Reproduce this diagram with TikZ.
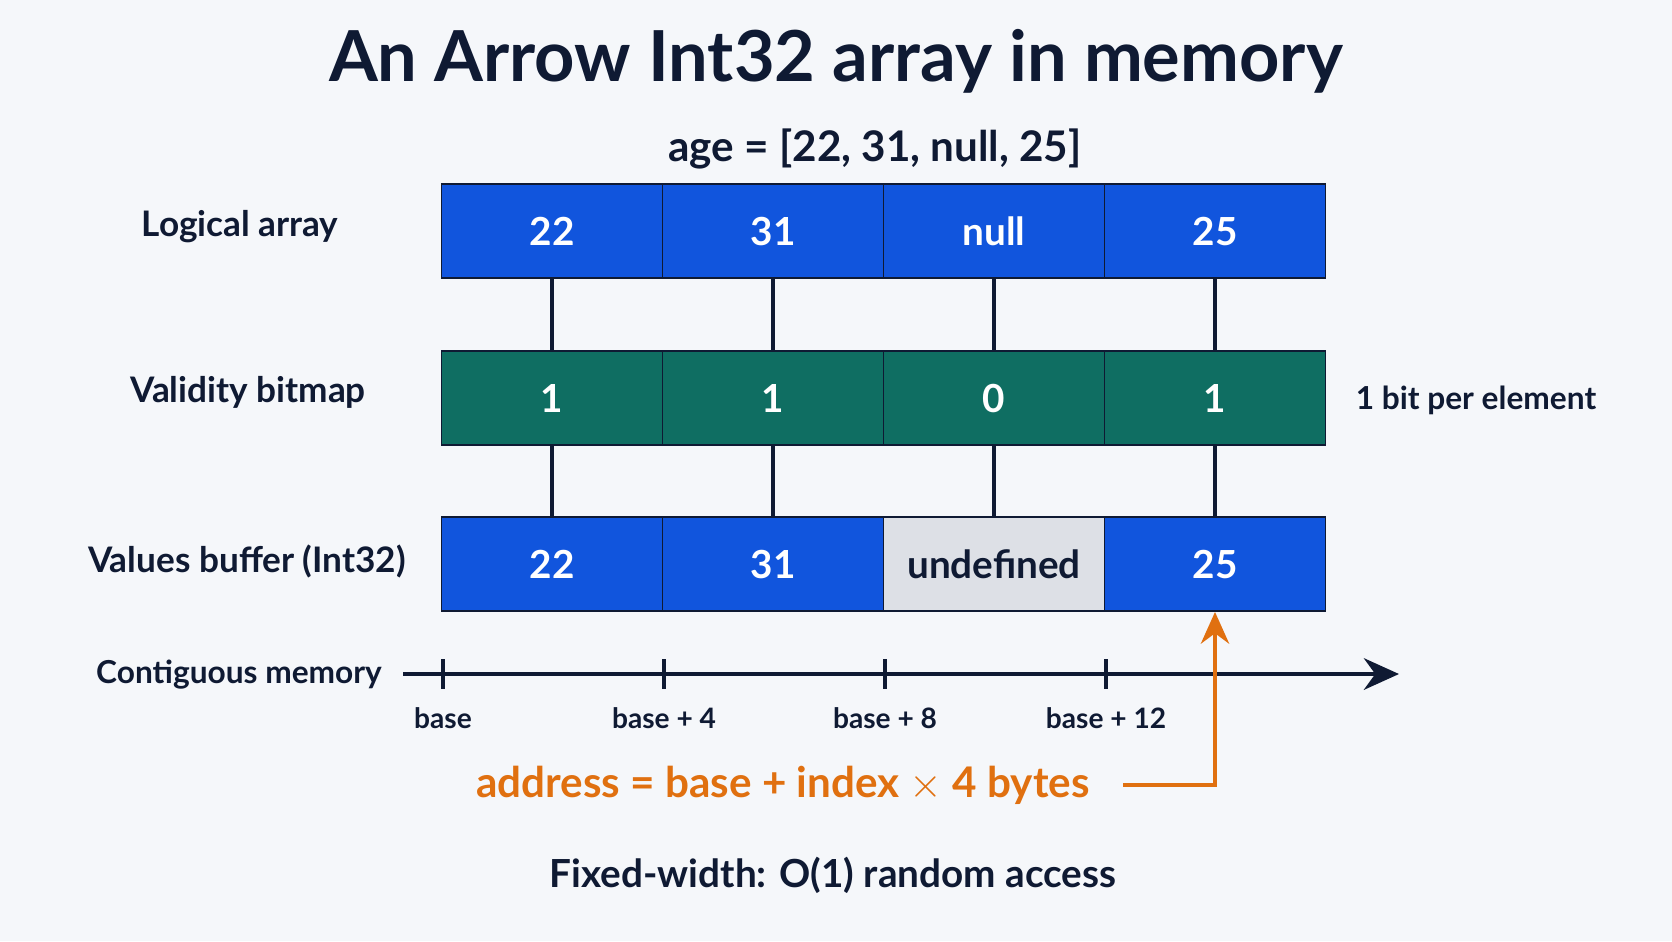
\documentclass[tikz,border=0pt]{standalone}
\usepackage{fontspec}
\setmainfont{Lato}
\usetikzlibrary{arrows.meta,calc,positioning}
\definecolor{bgc}{HTML}{F5F7FA}
\definecolor{ink}{HTML}{0F1A33}
\definecolor{cellblue}{HTML}{1155DD}
\definecolor{cellgreen}{HTML}{0F6E62}
\definecolor{cellgrey}{HTML}{DDE0E6}
\definecolor{addr}{HTML}{E07010}
\tikzset{
	cell/.style={draw=ink,line width=0.5pt,minimum width=2.21cm,minimum height=0.94cm,inner sep=0,text=white,font=\bfseries\fontsize{11}{13}\selectfont},
	rowlabel/.style={text=ink,font=\bfseries\fontsize{10}{12}\selectfont},
	ticklabel/.style={text=ink,font=\fontsize{8}{10}\selectfont\bfseries},
	link/.style={ink,line width=1.1pt}
}
\begin{document}
\begin{tikzpicture}[x=0.01cm,y=-0.01cm]
	\fill[bgc] (0,0) rectangle (1672,941);
	\useasboundingbox (0,0) rectangle (1672,941);

	% titles
	\node[text=ink,font=\bfseries\fontsize{20}{24}\selectfont] (title) at (836,61) {An Arrow Int32 array in memory};
	\node[text=ink,font=\fontsize{12}{14}\selectfont\bfseries] (sub) at (875,149) {age = [22, 31, null, 25]};

	% rows of cells
	\foreach \i/\v in {1/22,2/31,3/null,4/25}{
			\node[cell,fill=cellblue] (L\i) at (331+221*\i,231) {\v};
		}
	\foreach \i/\v in {1/1,2/1,3/0,4/1}{
			\node[cell,fill=cellgreen] (B\i) at (331+221*\i,398) {\v};
		}
	\foreach \i/\v in {1/22,2/31,4/25}{
			\node[cell,fill=cellblue] (V\i) at (331+221*\i,564) {\v};
		}
	\node[cell,fill=cellgrey,text=ink] (V3) at (994,564) {undefined};

	\foreach \i in {1,...,4}{
			\draw[link] (L\i) -- (B\i);
			\draw[link] (B\i) -- (V\i);
		}

	% row labels
	\node[rowlabel] (lbl1) at (240,227) {Logical array};
	\node[rowlabel] (lbl2) at (248,392) {Validity bitmap};
	\node[rowlabel] (lbl3) at (247,561) {Values buffer (Int32)};
	\node[rowlabel,font=\bfseries\fontsize{9}{11}\selectfont] (lbl4) at (239,675) {Contiguous memory};
	\node[rowlabel,font=\bfseries\fontsize{9}{11}\selectfont] (note) at (1476,400) {1 bit per element};

	% memory axis
	\coordinate (ax0) at (403,674);
	\coordinate (ax1) at (1399,674);
	\draw[ink,line width=1.1pt,-{Stealth[length=10pt,width=9pt]}] (ax0) -- (ax1);
	\foreach \i/\t in {0/base,1/base + 4,2/base + 8,3/base + 12}{
			\coordinate (t\i) at (443+221*\i,674);
			\draw[ink,line width=1.1pt] ($(t\i)+(0,-15)$) -- ($(t\i)+(0,15)$);
			\node[ticklabel] (tl\i) at (443+221*\i,718) {\t};
		}

	% address formula
	\node[text=addr,font=\bfseries\fontsize{12}{14}\selectfont] (formula) at (783,785) {address = base + index $\times$ 4 bytes};
	\draw[addr,line width=1.3pt,-{Stealth[length=9pt,width=8pt]}] ([xshift=6pt]formula.east) -| (V4.south);

	\node[text=ink,font=\bfseries\fontsize{11}{13}\selectfont] (foot) at (833,875) {Fixed-width: O(1) random access};
\end{tikzpicture}
\end{document}
